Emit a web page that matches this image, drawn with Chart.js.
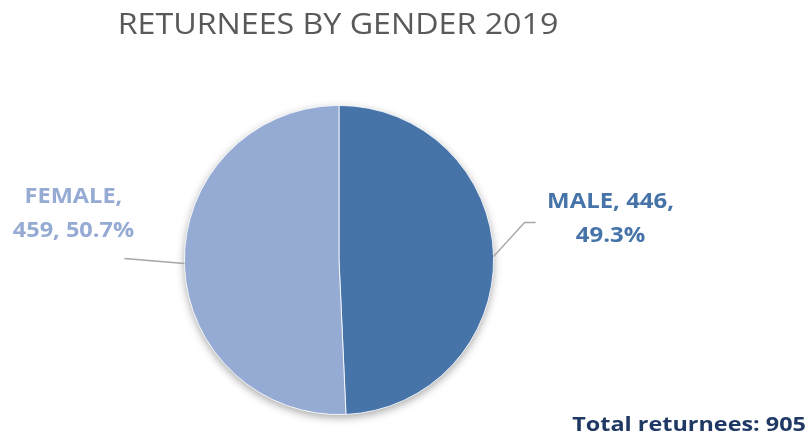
<!DOCTYPE html>
<html>
<head>
<meta charset="utf-8">
<script src="https://cdn.jsdelivr.net/npm/chart.js@4/dist/chart.umd.min.js"></script>
<style>
  html, body { margin: 0; padding: 0; background: #ffffff; }
  #wrap { width: 811px; height: 441px; position: relative; }
</style>
</head>
<body>
<div id="wrap"><canvas id="c" width="811" height="441"></canvas></div>
<script>
const titleText = 'RETURNEES BY GENDER 2019';
const categories = ['MALE', 'FEMALE'];
const values = [446, 459];
const colors = ['#4674A9', '#95ABD3'];
const totalLabel = 'Total returnees: ';

const total = values.reduce((a, b) => a + b, 0);

function drawText(ctx, text, x, y, sx) {
  ctx.save();
  ctx.translate(x, y);
  ctx.scale(sx, 1);
  ctx.fillText(text, 0, 0);
  ctx.restore();
}

const annotate = {
  id: 'annotate',
  beforeDatasetsDraw(chart) {
    const ctx = chart.ctx;
    const arc = chart.getDatasetMeta(0).data[0];
    ctx.save();
    ctx.beginPath();
    ctx.arc(arc.x, arc.y, arc.outerRadius, 0, Math.PI * 2);
    ctx.shadowColor = 'rgba(0,0,0,0.35)';
    ctx.shadowBlur = 8;
    ctx.shadowOffsetY = 3;
    ctx.fillStyle = '#ffffff';
    ctx.fill();
    ctx.restore();
  },
  afterDatasetsDraw(chart) {
    const ctx = chart.ctx;
    const meta = chart.getDatasetMeta(0);
    ctx.save();
    ctx.textBaseline = 'alphabetic';
    // title
    ctx.fillStyle = '#595959';
    ctx.font = '29px "Open Sans"';
    ctx.textAlign = 'center';
    drawText(ctx, titleText, 338, 34, 1.11);

    meta.data.forEach((a, i) => {
      const mid = (a.startAngle + a.endAngle) / 2;
      const px = a.x + Math.cos(mid) * a.outerRadius;
      const py = a.y + Math.sin(mid) * a.outerRadius;
      const pct = (values[i] / total * 100).toFixed(1) + '%';
      ctx.strokeStyle = '#A6A6A6';
      ctx.lineWidth = 1.3;
      ctx.beginPath();
      ctx.font = 'bold 21px "Open Sans"';
      ctx.fillStyle = colors[i];
      ctx.textAlign = 'center';
      if (Math.cos(mid) >= 0) {
        ctx.moveTo(px, py);
        ctx.lineTo(px + 31, py - 34);
        ctx.lineTo(px + 42, py - 34);
        ctx.stroke();
        const cx = px + 117;
        drawText(ctx, categories[i] + ', ' + values[i] + ',', cx, py - 49, 1.14);
        drawText(ctx, pct, cx, py - 15, 1.14);
      } else {
        ctx.moveTo(px, py);
        ctx.lineTo(px - 60, py - 5);
        ctx.stroke();
        const cx = px - 111;
        drawText(ctx, categories[i] + ',', cx, py - 60, 1.12);
        drawText(ctx, values[i] + ', ' + pct, cx, py - 26, 1.12);
      }
    });

    ctx.fillStyle = '#1F3864';
    ctx.font = 'bold 20px "Open Sans"';
    ctx.textAlign = 'right';
    drawText(ctx, totalLabel + total, 806, 431, 1.17);
    ctx.restore();
  }
};

new Chart(document.getElementById('c'), {
  type: 'pie',
  data: {
    labels: categories,
    datasets: [{
      data: values,
      backgroundColor: colors,
      borderColor: '#ffffff',
      borderWidth: 0.8
    }]
  },
  options: {
    responsive: false,
    animation: false,
    layout: { padding: { left: 184, right: 317, top: 105, bottom: 26 } },
    plugins: {
      legend: { display: false },
      title: { display: false },
      tooltip: { enabled: false }
    }
  },
  plugins: [annotate]
});
</script>
</body>
</html>
